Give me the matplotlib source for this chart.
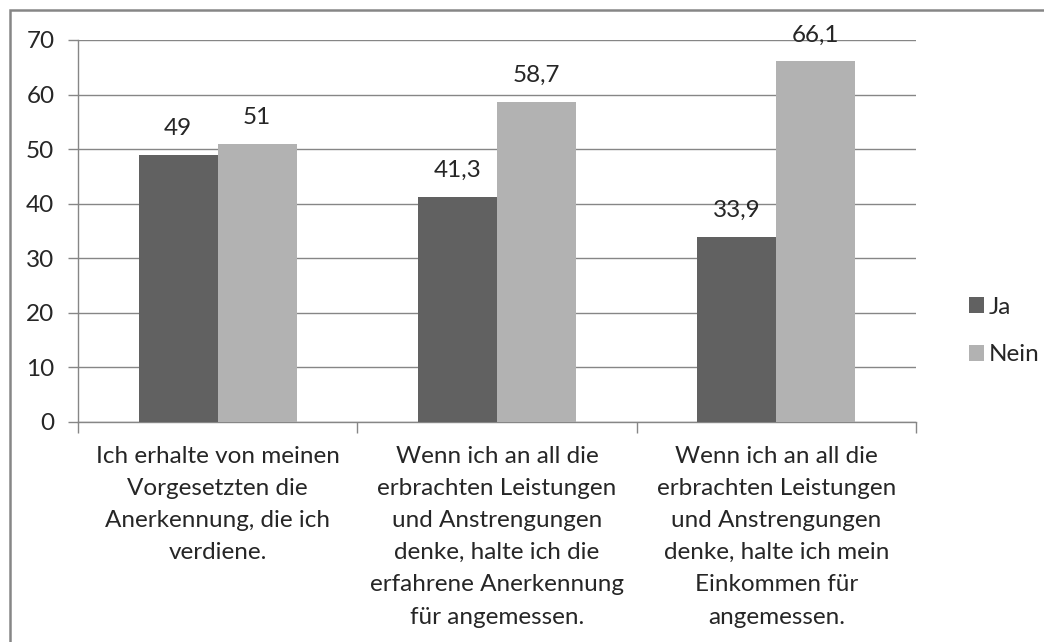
import matplotlib
matplotlib.use("Agg")
import matplotlib.pyplot as plt
from matplotlib.patches import Rectangle
from matplotlib.ticker import FixedLocator, NullFormatter

categories = [
    "Ich erhalte von meinen\nVorgesetzten die\nAnerkennung, die ich\nverdiene.",
    "Wenn ich an all die\nerbrachten Leistungen\nund Anstrengungen\ndenke, halte ich die\nerfahrene Anerkennung\nfür angemessen.",
    "Wenn ich an all die\nerbrachten Leistungen\nund Anstrengungen\ndenke, halte ich mein\nEinkommen für\nangemessen.",
]
ja = [49, 41.3, 33.9]
nein = [51, 58.7, 66.1]
ja_labels = ["49", "41,3", "33,9"]
nein_labels = ["51", "58,7", "66,1"]
series_names = ["Ja", "Nein"]
yticks = [0, 10, 20, 30, 40, 50, 60, 70]

plt.rcParams['font.family'] = ['Lato', 'DejaVu Sans']
FS = 17.5
TXT = '#262626'
GRID = '#868686'
C_JA = '#616161'
C_NEIN = '#b2b2b2'

W, H = 1044, 642
fig = plt.figure(figsize=(W / 100, H / 100), dpi=100)
ax = fig.add_axes([78 / W, 1 - 422 / H, (916 - 78) / W, (422 - 40) / H])

x = list(range(len(categories)))
bw = 0.283
b1 = ax.bar([i - bw / 2 for i in x], ja, width=bw, color=C_JA, label=series_names[0], zorder=3)
b2 = ax.bar([i + bw / 2 for i in x], nein, width=bw, color=C_NEIN, label=series_names[1], zorder=3)

for rect, lab in zip(b1, ja_labels):
    ax.annotate(lab, (rect.get_x() + rect.get_width() / 2, rect.get_height()),
                xytext=(0, 19), textcoords='offset points', ha='center', va='center',
                fontsize=FS, color=TXT, zorder=4)
for rect, lab in zip(b2, nein_labels):
    ax.annotate(lab, (rect.get_x() + rect.get_width() / 2, rect.get_height()),
                xytext=(0, 19), textcoords='offset points', ha='center', va='center',
                fontsize=FS, color=TXT, zorder=4)

ax.set_xlim(-0.5, len(categories) - 0.5)
ax.set_ylim(0, 70)
ax.set_yticks(yticks)
ax.set_yticklabels([str(v) for v in yticks])
ax.yaxis.grid(True, color=GRID, linewidth=1.0, zorder=0)
ax.set_axisbelow(True)

ax.set_xticks(x)
ax.set_xticklabels(categories, fontsize=FS, color=TXT, linespacing=1.66, va='top')
ax.xaxis.set_minor_locator(FixedLocator([-0.5, 0.5, 1.5, 2.5]))
ax.xaxis.set_minor_formatter(NullFormatter())
ax.tick_params(axis='x', which='major', length=0, pad=17)
ax.tick_params(axis='x', which='minor', length=8, width=1, color=GRID, direction='out')
ax.tick_params(axis='y', length=7, width=1, color=GRID, pad=10, labelsize=FS, labelcolor=TXT)

for s in ['top', 'right']:
    ax.spines[s].set_visible(False)
for s in ['left', 'bottom']:
    ax.spines[s].set_color(GRID)
    ax.spines[s].set_linewidth(1.0)

leg = fig.legend(handles=[b1, b2], labels=series_names, loc='center left',
                 bbox_to_anchor=(957 / W, 1 - 331 / H), frameon=False,
                 fontsize=FS, handlelength=0.6, handleheight=0.6,
                 handletextpad=0.2, labelspacing=1.1, borderpad=0)
for t in leg.get_texts():
    t.set_color(TXT)

# outer chart border
fig.patches.append(Rectangle((10 / W, -0.1), 1.2, 1 - 10 / H + 0.1, transform=fig.transFigure,
                             fill=False, edgecolor='#868686', linewidth=1.8))

fig.savefig("out.png", dpi=100)
